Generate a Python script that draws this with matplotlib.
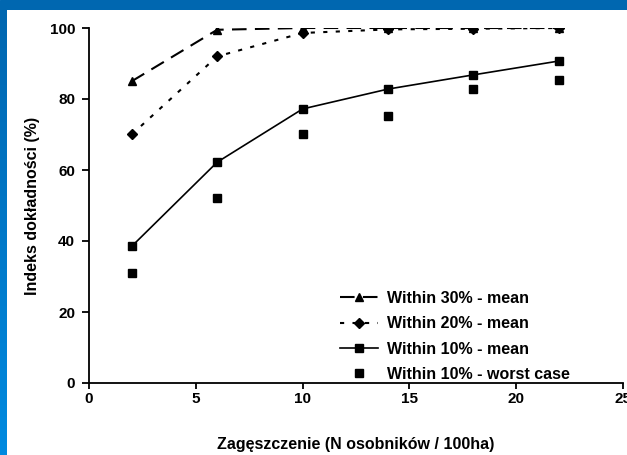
import numpy as np
import matplotlib.pyplot as plt
from matplotlib.colors import LinearSegmentedColormap

plt.rcParams['font.family'] = ['Liberation Sans', 'DejaVu Sans']
plt.rcParams['font.weight'] = 'bold'

x = [2, 6, 10, 14, 18, 22]
within30_mean = [85, 99.5, 100, 100, 100, 100]
within20_mean = [70, 92, 98.6, 99.6, 99.8, 100]
within10_mean = [38.5, 62.2, 77.2, 82.8, 86.8, 90.7]
within10_worst = [31, 52, 70, 75.2, 82.8, 85.4]

fig = plt.figure(figsize=(6.27, 4.55), dpi=100)

# blue frame: top band and left gradient band
top = fig.add_axes([0, 1 - 10 / 455, 1, 10 / 455])
top.set_axis_off()
top.add_patch(plt.Rectangle((0, 0), 1, 1, color='#0067b0', transform=top.transAxes))
left = fig.add_axes([0, 0, 7 / 627, 1 - 10 / 455])
grad = np.linspace(0, 1, 256).reshape(-1, 1)
cmap = LinearSegmentedColormap.from_list('b', ['#0066b0', '#008ae0'])
left.imshow(grad, aspect='auto', cmap=cmap, extent=[0, 1, 0, 1], origin='upper')
left.set_axis_off()

ax = fig.add_axes([89 / 627, 1 - 383 / 455, 534 / 627, 355 / 455])
ax.plot(x, within30_mean, color='black', linestyle=(0, (7, 4)), linewidth=1.5,
        marker='^', markersize=6, label='Within 30% - mean')
ax.plot(x, within20_mean, color='black', linestyle=(0, (2, 4)), linewidth=1.5,
        marker='D', markersize=5, label='Within 20% - mean')
ax.plot(x, within10_mean, color='black', linestyle='-', linewidth=1.2,
        marker='s', markersize=6, label='Within 10% - mean')
ax.plot(x, within10_worst, color='black', linestyle='none',
        marker='s', markersize=6, label='Within 10% - worst case')

ax.set_xlim(0, 25)
ax.set_ylim(0, 100)
ax.set_xticks([0, 5, 10, 15, 20, 25])
ax.set_yticks([0, 20, 40, 60, 80, 100])
ax.spines['top'].set_visible(False)
ax.spines['right'].set_visible(False)
ax.spines['left'].set_linewidth(1.3)
ax.spines['bottom'].set_linewidth(1.3)
ax.tick_params(axis='x', direction='out', length=4.5, width=1.3, labelsize=11, pad=2)
ax.tick_params(axis='y', direction='out', length=5, width=1.3, labelsize=11, pad=5)
for lab in ax.get_xticklabels() + ax.get_yticklabels():
    lab.set_fontweight('bold')
ax.set_xlabel('Zagęszczenie (N osobników / 100ha)', fontsize=11.5, fontweight='bold', labelpad=22)
ax.set_ylabel('Indeks dokładności (%)', fontsize=11.5, fontweight='bold', labelpad=7)

leg = ax.legend(loc='lower left', frameon=False, fontsize=11.5, handlelength=2.4,
                handletextpad=0.55, labelspacing=0.65, borderpad=0, borderaxespad=0,
                bbox_to_anchor=(340 / 627, 1 - 382 / 455), bbox_transform=fig.transFigure)
for t in leg.get_texts():
    t.set_fontweight('bold')

fig.savefig('out.png', dpi=100)
